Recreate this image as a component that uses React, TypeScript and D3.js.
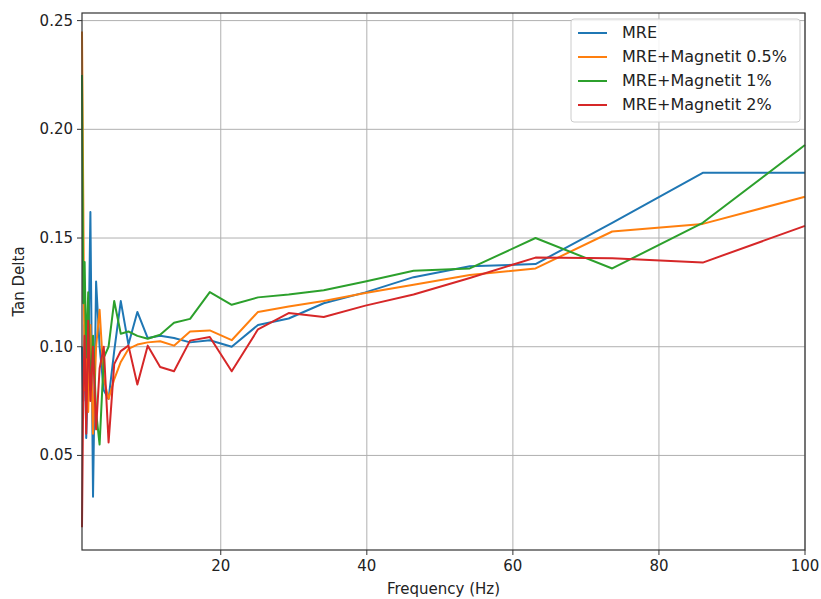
import React, { useRef, useEffect } from 'react';
import * as d3 from 'd3';

// frequency points (Hz)
const freq = [1.0, 1.17, 1.36, 1.58, 1.85, 2.15, 2.51, 2.93, 3.41, 3.98, 4.64, 5.41, 6.31, 7.36, 8.58, 10.0, 11.7, 13.6, 15.8, 18.5, 21.5, 25.1, 29.3, 34.1, 39.8, 46.4, 54.1, 63.1, 73.6, 86.0, 100];

const mre = [0.100, 0.075, 0.110, 0.058, 0.090, 0.162, 0.031, 0.130, 0.100, 0.080, 0.076, 0.098, 0.121, 0.101, 0.116, 0.104, 0.105, 0.104, 0.102, 0.103, 0.100, 0.110, 0.113, 0.120, 0.125, 0.132, 0.137, 0.138, 0.157, 0.180, 0.180];
const mre05 = [0.245, 0.170, 0.080, 0.105, 0.070, 0.110, 0.060, 0.100, 0.117, 0.085, 0.076, 0.085, 0.093, 0.099, 0.101, 0.102, 0.1025, 0.1005, 0.107, 0.1075, 0.103, 0.116, 0.1185, 0.121, 0.1247, 0.1285, 0.133, 0.136, 0.153, 0.1565, 0.169];
const mre1 = [0.225, 0.120, 0.139, 0.095, 0.125, 0.080, 0.105, 0.070, 0.055, 0.095, 0.100, 0.121, 0.106, 0.107, 0.105, 0.1037, 0.1055, 0.111, 0.1128, 0.1251, 0.1193, 0.1227, 0.124, 0.126, 0.130, 0.1349, 0.136, 0.150, 0.136, 0.157, 0.1928];
const mre2 = [0.017, 0.080, 0.105, 0.060, 0.112, 0.075, 0.100, 0.062, 0.090, 0.100, 0.056, 0.092, 0.098, 0.1005, 0.0826, 0.1005, 0.0907, 0.0887, 0.1028, 0.1045, 0.0887, 0.108, 0.1155, 0.1137, 0.1189, 0.124, 0.1316, 0.141, 0.1407, 0.1387, 0.1556];

const seriesNames = ['MRE', 'MRE+Magnetit 0.5%', 'MRE+Magnetit 1%', 'MRE+Magnetit 2%'];
const seriesColors = ['#1f77b4', '#ff7f0e', '#2ca02c', '#d62728'];
const xTicks = [20, 40, 60, 80, 100];
const yTicks = [0.05, 0.10, 0.15, 0.20, 0.25];

const App = () => {
  const svgRef = useRef<SVGSVGElement>(null);

  useEffect(() => {
    const svg = d3.select(svgRef.current);
    svg.selectAll('*').remove();

    const width = 821;
    const height = 599;
    const left = 82;
    const right = 805;
    const top = 13;
    const bottom = 550;
    const font = 'DejaVu Sans, sans-serif';
    const fs = '15px';

    const x = d3.scaleLinear().domain([1, 100]).range([left, right]);
    const y = d3.scaleLinear().domain([0.0065, 0.2535]).range([bottom, top]);

    svg.attr('width', width).attr('height', height);

    // grid
    svg.append('g')
      .selectAll('line')
      .data(xTicks)
      .join('line')
      .attr('x1', (d) => x(d)).attr('x2', (d) => x(d))
      .attr('y1', top).attr('y2', bottom)
      .style('stroke', '#b0b0b0').style('stroke-width', 1);
    svg.append('g')
      .selectAll('line')
      .data(yTicks)
      .join('line')
      .attr('x1', left).attr('x2', right)
      .attr('y1', (d) => y(d)).attr('y2', (d) => y(d))
      .style('stroke', '#b0b0b0').style('stroke-width', 1);

    // lines
    const all = [mre, mre05, mre1, mre2];
    const line = d3.line<number>()
      .x((_, i) => x(freq[i]))
      .y((d) => y(d));
    all.forEach((vals, i) => {
      svg.append('path')
        .datum(vals)
        .attr('d', line)
        .style('fill', 'none')
        .style('stroke', seriesColors[i])
        .style('stroke-width', 2)
        .style('stroke-linejoin', 'round');
    });

    // spines
    svg.append('rect')
      .attr('x', left).attr('y', top)
      .attr('width', right - left).attr('height', bottom - top)
      .style('fill', 'none').style('stroke', '#333').style('stroke-width', 1.2);

    // x ticks
    xTicks.forEach((t) => {
      svg.append('line')
        .attr('x1', x(t)).attr('x2', x(t))
        .attr('y1', bottom).attr('y2', bottom + 5)
        .style('stroke', '#333');
      svg.append('text')
        .text(t)
        .attr('x', x(t)).attr('y', bottom + 21)
        .attr('text-anchor', 'middle')
        .style('font-family', font).style('font-size', fs).style('fill', '#222');
    });

    // y ticks
    yTicks.forEach((t) => {
      svg.append('line')
        .attr('x1', left - 5).attr('x2', left)
        .attr('y1', y(t)).attr('y2', y(t))
        .style('stroke', '#333');
      svg.append('text')
        .text(t.toFixed(2))
        .attr('x', left - 9).attr('y', y(t) + 5)
        .attr('text-anchor', 'end')
        .style('font-family', font).style('font-size', fs).style('fill', '#222');
    });

    svg.append('text')
      .text('Frequency (Hz)')
      .attr('x', (left + right) / 2).attr('y', 594)
      .attr('text-anchor', 'middle')
      .style('font-family', font).style('font-size', fs).style('fill', '#222');

    svg.append('text')
      .text('Tan Delta')
      .attr('transform', `translate(24,${(top + bottom) / 2}) rotate(-90)`)
      .attr('text-anchor', 'middle')
      .style('font-family', font).style('font-size', fs).style('fill', '#222');

    // legend
    const lg = svg.append('g');
    lg.append('rect')
      .attr('x', 571).attr('y', 19)
      .attr('width', 229).attr('height', 103)
      .attr('rx', 3)
      .style('fill', 'white').style('fill-opacity', 0.85)
      .style('stroke', '#ccc');
    seriesNames.forEach((name, i) => {
      const ly = 33 + i * 24;
      lg.append('line')
        .attr('x1', 578).attr('x2', 607)
        .attr('y1', ly).attr('y2', ly)
        .style('stroke', seriesColors[i]).style('stroke-width', 2);
      lg.append('text')
        .text(name)
        .attr('x', 622).attr('y', ly + 5)
        .style('font-family', font).style('font-size', '16px').style('fill', '#222');
    });
  }, []);

  return (
    <div style={{ position: 'absolute', left: 0, top: 0 }}>
      <svg ref={svgRef}></svg>
    </div>
  );
};

export default App;
